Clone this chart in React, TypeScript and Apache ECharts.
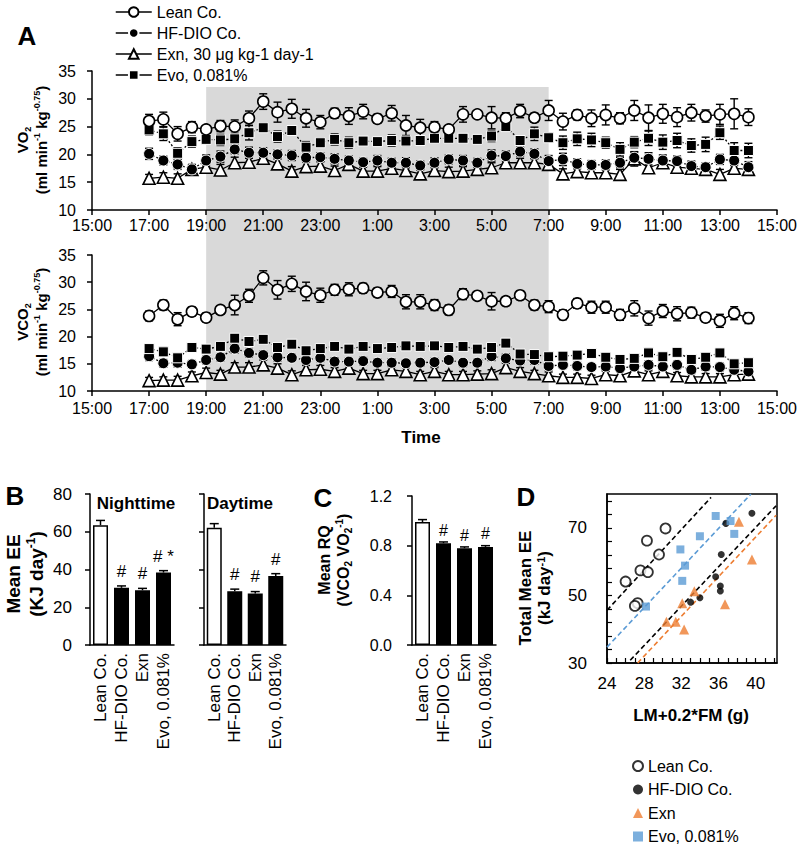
import React, { useEffect, useRef } from "react";
import * as echarts from "echarts";

// ---------- DATA ----------
const times = [
  "17:00", "17:30", "18:00", "18:30", "19:00", "19:30", "20:00", "20:30", "21:00", "21:30", "22:00", "22:30", "23:00",
  "23:30", "0:00", "0:30", "1:00", "1:30", "2:00", "2:30", "3:00", "3:30", "4:00", "4:30", "5:00", "5:30", "6:00", "6:30", "7:00",
  "7:30", "8:00", "8:30", "9:00", "9:30", "10:00", "10:30", "11:00", "11:30", "12:00", "12:30", "13:00", "13:30", "14:00",
];
const axisStartHour = 15; // 15:00
const darkPeriod = ["19:00", "7:00"];

const vo2Lean = [26.0, 26.3, 23.7, 24.9, 24.5, 25.1, 25.0, 26.5, 29.5, 27.6, 28.2, 26.5, 25.8, 27.4, 26.9, 27.7, 26.4, 27.4, 25.2, 24.8, 24.9, 24.5, 27.2, 27.2, 26.6, 26.5, 27.8, 26.6, 27.9, 25.9, 27.1, 26.5, 27.1, 26.5, 27.9, 26.6, 27.3, 26.7, 27.5, 26.9, 27.2, 27.3, 26.7];
const vo2Hf = [20.1, 18.9, 18.2, 17.3, 18.9, 19.6, 20.9, 20.3, 20.3, 20.0, 19.8, 19.4, 19.5, 19.2, 18.9, 18.6, 18.9, 18.5, 18.5, 18.0, 18.5, 19.1, 18.9, 18.5, 19.8, 19.7, 20.5, 20.1, 18.8, 19.1, 18.3, 18.1, 18.1, 18.5, 19.4, 19.2, 18.9, 18.8, 17.9, 17.7, 19.1, 18.9, 17.7];
const vo2Exn = [15.7, 15.9, 15.7, 17.3, 17.7, 17.2, 18.5, 18.6, 19.3, 18.3, 17.0, 17.8, 17.9, 17.1, 18.2, 17.0, 17.0, 17.5, 17.1, 16.5, 17.1, 16.9, 17.0, 17.3, 17.6, 18.5, 18.5, 18.5, 18.2, 16.5, 16.9, 16.7, 16.7, 16.4, 19.2, 17.6, 18.5, 17.7, 17.5, 17.3, 16.4, 17.5, 17.3];
const vo2Evo = [24.4, 23.7, 20.2, 22.3, 22.7, 22.6, 22.8, 23.9, 24.8, 23.2, 24.3, 21.3, 22.1, 22.7, 22.1, 22.4, 22.3, 22.5, 22.4, 22.5, 22.9, 22.9, 22.9, 22.7, 23.3, 25.0, 22.5, 23.7, 23.0, 22.1, 22.8, 22.6, 22.1, 20.9, 22.2, 22.9, 22.2, 22.5, 21.6, 21.8, 23.9, 20.7, 20.7];

const vo2LeanErr = [1.2, 1.3, 1.3, 1.0, 0.5, 1.0, 1.2, 1.3, 1.4, 1.8, 1.7, 1.6, 1.2, 0.9, 1.5, 1.3, 0.8, 1.4, 1.8, 1.5, 1.0, 0.6, 1.4, 0.5, 2.0, 1.0, 1.2, 0.8, 1.8, 1.5, 0.9, 1.5, 1.8, 1.0, 1.8, 2.3, 1.7, 1.7, 1.5, 1.1, 1.8, 2.7, 1.5];
const vo2HfErr = [1.0, 0.8, 0.9, 0.8, 1.0, 1.0, 0.8, 1.0, 0.9, 0.8, 0.9, 0.8, 0.8, 0.9, 0.8, 0.7, 0.9, 0.8, 0.9, 0.8, 0.9, 0.8, 0.9, 0.8, 1.0, 0.9, 0.8, 0.9, 1.0, 1.1, 0.9, 0.8, 0.9, 0.9, 1.0, 1.1, 1.0, 0.9, 0.9, 0.8, 0.9, 0.9, 1.0];
const vo2ExnErr = [0.7, 0.8, 0.8, 0.9, 0.8, 1.0, 1.0, 1.0, 1.0, 0.9, 0.8, 0.8, 0.8, 0.8, 0.8, 0.7, 0.8, 0.8, 0.9, 0.8, 0.8, 0.8, 0.8, 0.8, 0.9, 0.9, 0.8, 0.8, 1.0, 0.9, 0.8, 0.8, 0.8, 0.9, 1.3, 1.0, 0.9, 0.8, 0.8, 0.8, 0.9, 0.8, 1.0];
const vo2EvoErr = [0.9, 1.2, 1.0, 1.0, 0.6, 1.0, 0.8, 1.3, 0.8, 1.0, 0.7, 1.0, 0.8, 1.0, 1.0, 0.6, 0.6, 1.0, 0.8, 0.6, 0.6, 0.6, 0.6, 0.6, 1.0, 0.7, 0.8, 1.2, 0.8, 1.2, 1.2, 1.2, 1.0, 1.2, 1.0, 1.3, 1.3, 1.3, 1.2, 1.3, 1.2, 1.4, 1.3];

const vco2Lean = [23.8, 25.8, 23.2, 24.6, 23.5, 24.9, 25.8, 27.5, 30.8, 28.6, 29.7, 28.3, 27.6, 28.6, 28.7, 28.9, 28.1, 28.3, 26.4, 26.4, 25.8, 24.9, 27.8, 27.5, 26.5, 26.5, 27.6, 25.8, 25.5, 24.0, 26.1, 25.4, 25.4, 24.0, 25.2, 23.4, 24.7, 24.2, 24.4, 23.5, 22.9, 24.3, 23.4];
const vco2Hf = [16.4, 15.1, 15.2, 14.9, 15.7, 16.2, 17.8, 17.0, 16.6, 16.2, 16.1, 15.7, 16.1, 15.4, 15.4, 15.5, 15.2, 15.2, 15.1, 15.2, 15.3, 15.7, 15.2, 15.2, 16.4, 16.0, 15.6, 15.7, 14.6, 14.8, 14.6, 14.4, 14.5, 14.2, 14.5, 14.8, 14.5, 14.8, 13.9, 14.5, 14.4, 13.9, 13.6];
const vco2Exn = [11.9, 12.0, 12.0, 12.8, 13.4, 13.1, 14.4, 14.4, 14.8, 14.2, 13.0, 13.9, 14.0, 13.6, 14.2, 13.2, 13.2, 13.9, 13.6, 13.0, 13.6, 13.0, 13.0, 13.1, 13.2, 14.3, 13.6, 13.2, 12.8, 12.5, 12.5, 12.3, 13.0, 12.8, 13.7, 13.0, 13.6, 12.8, 12.6, 12.6, 12.6, 13.0, 13.1];
const vco2Evo = [17.8, 17.2, 16.1, 18.0, 17.7, 18.2, 19.7, 19.1, 19.5, 18.0, 18.6, 17.4, 17.8, 18.2, 17.7, 18.2, 17.8, 18.0, 18.3, 18.2, 18.3, 18.0, 18.2, 17.7, 18.0, 18.8, 16.8, 16.7, 16.3, 16.4, 16.6, 16.9, 16.2, 15.8, 16.0, 17.0, 16.3, 17.1, 15.8, 16.2, 17.0, 15.0, 15.2];

const vco2LeanErr = [0.9, 0.9, 1.2, 0.8, 0.8, 0.8, 1.8, 1.2, 1.3, 1.7, 1.4, 1.7, 1.3, 1.0, 1.2, 0.9, 0.8, 1.1, 1.3, 1.3, 1.0, 0.9, 1.0, 0.5, 1.6, 0.8, 0.8, 0.9, 1.1, 0.9, 0.9, 1.1, 1.1, 1.0, 1.4, 1.3, 1.2, 1.3, 1.0, 0.8, 1.2, 1.2, 1.0];
const vco2HfErr = [0.8, 0.7, 0.8, 0.7, 0.7, 0.6, 0.8, 0.8, 0.7, 0.7, 0.6, 0.7, 0.7, 0.7, 0.6, 0.7, 0.6, 0.7, 0.6, 0.6, 0.7, 0.6, 0.7, 0.6, 0.8, 0.8, 0.7, 0.8, 0.7, 0.6, 0.7, 0.6, 0.7, 0.6, 0.7, 0.7, 0.6, 0.7, 0.6, 0.7, 0.7, 0.6, 0.7];
const vco2ExnErr = [0.6, 0.6, 0.7, 0.7, 0.8, 0.7, 0.8, 0.8, 0.9, 0.8, 0.7, 0.8, 0.7, 0.7, 0.7, 0.6, 0.6, 0.7, 0.7, 0.6, 0.7, 0.6, 0.6, 0.6, 0.7, 0.8, 0.7, 0.6, 0.7, 0.6, 0.6, 0.6, 0.6, 0.7, 0.8, 0.7, 0.7, 0.6, 0.6, 0.6, 0.6, 0.6, 0.7];
const vco2EvoErr = [0.7, 0.8, 0.7, 0.6, 0.6, 0.7, 0.6, 0.7, 0.6, 0.7, 0.6, 0.7, 0.6, 0.6, 0.7, 0.6, 0.6, 0.6, 0.6, 0.6, 0.6, 0.6, 0.6, 0.6, 0.7, 0.7, 0.8, 0.8, 0.7, 0.7, 0.7, 0.6, 0.7, 0.7, 0.6, 0.8, 0.7, 0.8, 0.7, 0.7, 0.6, 0.7, 0.7];

const groupNames = ["Lean Co.", "HF-DIO Co.", "Exn, 30 μg kg-1 day-1", "Evo, 0.081%"];

// Panel B / C
const barCategories = ["Lean Co.", "HF-DIO Co.", "Exn", "Evo, 0.081%"];
const nightEE = [63.5, 30.3, 29.0, 38.4];
const nightEEErr = [2.5, 1.0, 1.0, 1.0];
const nightSig = ["", "#", "#", "# *"];
const dayEE = [62.1, 28.5, 27.3, 36.6];
const dayEEErr = [2.2, 1.1, 1.0, 1.2];
const daySig = ["", "#", "#", "#"];
const meanRQ = [0.99, 0.82, 0.78, 0.79];
const meanRQErr = [0.02, 0.01, 0.01, 0.01];
const rqSig = ["", "#", "#", "#"];

// Panel D
const dNames = ["Lean Co.", "HF-DIO Co.", "Exn", "Evo, 0.081%"];
const dLeanX = [26.0, 27.3, 27.0, 27.6, 28.4, 28.3, 29.6, 30.3];
const dLeanY = [54.1, 47.7, 46.9, 57.4, 56.9, 66.2, 62.1, 69.8];
const dHfX = [33.0, 34.0, 35.7, 36.2, 36.2, 36.3, 36.8, 39.6];
const dHfY = [48.0, 49.3, 55.5, 52.8, 51.3, 62.1, 71.3, 74.3];
const dExnX = [30.4, 31.4, 32.3, 32.1, 33.4, 36.7, 38.2, 39.6];
const dExnY = [42.2, 42.2, 39.9, 47.7, 51.2, 47.4, 71.8, 60.6];
const dEvoX = [28.2, 31.9, 32.1, 32.4, 34.0, 35.7, 37.3, 37.7];
const dEvoY = [46.7, 63.6, 54.3, 58.8, 67.5, 73.5, 72.0, 68.2];
const fitLean = [[24.0, 45.6], [35.2, 79.0]];
const fitEvo = [[24.0, 34.7], [39.5, 80.0]];
const fitHf = [[26.5, 30.8], [42.2, 76.5]];
const fitExn = [[27.3, 30.0], [42.2, 73.7]];
const dTicksX = [24, 25, 26, 27, 28, 29, 30, 31, 32, 33, 34, 35, 36, 37, 38, 39, 40, 41, 42];
const dLabelsX = [24, 28, 32, 36, 40];
const dTicksY = [30, 34, 38, 42, 46, 50, 54, 58, 62, 66, 70, 74, 78];
const dLabelsY = [30, 50, 70];

// ---------- STYLES ----------
const FONT = "'Liberation Sans', Arial, Helvetica, sans-serif";
const ORANGE = "#ED7D31";
const BLUE = "#5B9BD5";

function toOffset(t: string): number {
  const [h, m] = t.split(":").map(Number);
  let v = h + m / 60 - axisStartHour;
  if (v < 0) v += 24;
  return v;
}

const lineStyles = [
  { symbol: "circle", size: 11, fill: "#fff", border: "#000", bw: 1.6, dash: "solid", z: 6 },
  { symbol: "circle", size: 11, fill: "#000", border: "#fff", bw: 1, dash: [2, 2], z: 4 },
  { symbol: "triangle", size: 12, fill: "#fff", border: "#000", bw: 1.6, dash: "solid", z: 3 },
  { symbol: "rect", size: 10, fill: "#000", border: "#fff", bw: 1, dash: [2, 2], z: 5 },
];

function errSeries(axis: number, vals: number[], errs: number[]) {
  return {
    type: "custom",
    xAxisIndex: axis,
    yAxisIndex: axis,
    silent: true,
    z: 2,
    data: times.map((t, i) => [toOffset(t), vals[i], errs[i]]),
    encode: { x: 0, y: 1 },
    renderItem: (params: any, api: any) => {
      const x = api.value(0);
      const v = api.value(1);
      const e = api.value(2);
      const hi = api.coord([x, v + e]);
      const lo = api.coord([x, v - e]);
      const w = 4;
      const st = { stroke: "#000", lineWidth: 1.4 };
      return {
        type: "group",
        children: [
          { type: "line", shape: { x1: hi[0], y1: hi[1], x2: lo[0], y2: lo[1] }, style: st },
          { type: "line", shape: { x1: hi[0] - w, y1: hi[1], x2: hi[0] + w, y2: hi[1] }, style: st },
          { type: "line", shape: { x1: lo[0] - w, y1: lo[1], x2: lo[0] + w, y2: lo[1] }, style: st },
        ],
      };
    },
  };
}

function lineSeries(axis: number, gi: number, vals: number[]) {
  const s = lineStyles[gi];
  return {
    type: "line",
    name: groupNames[gi],
    xAxisIndex: axis,
    yAxisIndex: axis,
    data: times.map((t, i) => [toOffset(t), vals[i]]),
    symbol: s.symbol,
    symbolSize: s.size,
    showSymbol: true,
    z: s.z,
    lineStyle: { color: "#000", width: 1.3, type: s.dash },
    itemStyle: { color: s.fill, borderColor: s.border, borderWidth: s.bw },
    emphasis: { disabled: true },
  };
}

function barErr(axis: number, vals: number[], errs: number[]) {
  return {
    type: "custom",
    xAxisIndex: axis,
    yAxisIndex: axis,
    silent: true,
    z: 4,
    data: vals.map((v, i) => [i, v, errs[i]]),
    encode: { x: 0, y: 1 },
    renderItem: (params: any, api: any) => {
      const i = api.value(0);
      const v = api.value(1);
      const e = api.value(2);
      const base = api.coord([i, v]);
      const hi = api.coord([i, v + e]);
      const st = { stroke: "#000", lineWidth: 1.5 };
      return {
        type: "group",
        children: [
          { type: "line", shape: { x1: base[0], y1: base[1], x2: hi[0], y2: hi[1] }, style: st },
          { type: "line", shape: { x1: hi[0] - 4.5, y1: hi[1], x2: hi[0] + 4.5, y2: hi[1] }, style: st },
        ],
      };
    },
  };
}

const barFills = ["#fff", "#000", "#000", "#000"];

function barSeries(axis: number, vals: number[], sig: string[], width: number, fontSize: number, dist: number) {
  return {
    type: "bar",
    xAxisIndex: axis,
    yAxisIndex: axis,
    barWidth: width,
    z: 3,
    data: vals.map((v, i) => ({
      value: v,
      itemStyle: { color: barFills[i], borderColor: "#000", borderWidth: 1.5 },
    })),
    label: {
      show: true,
      position: "top",
      distance: dist,
      formatter: (p: any) => sig[p.dataIndex],
      fontSize,
      fontFamily: FONT,
      color: "#000",
    },
    emphasis: { disabled: true },
  };
}

const blackLine = { show: true, lineStyle: { color: "#000", width: 1.5 } };
const noSplit = { show: false };

function timeX(grid: number, margin: number) {
  return {
    type: "value",
    gridIndex: grid,
    min: 0,
    max: 24,
    interval: 2,
    axisLine: blackLine,
    axisTick: { show: true, length: 5, lineStyle: { color: "#000", width: 1.5 } },
    axisLabel: {
      fontSize: 16,
      color: "#000",
      margin,
      fontFamily: FONT,
      formatter: (v: number) => `${(v + axisStartHour) % 24}:00`,
    },
    splitLine: noSplit,
  };
}

function valY(grid: number, min: number, max: number, interval: number, showLabel: boolean, margin: number, fontSize: number, fmt?: (v: number) => string) {
  return {
    type: "value",
    gridIndex: grid,
    min,
    max,
    interval,
    axisLine: blackLine,
    axisTick: { show: true, length: 5, lineStyle: { color: "#000", width: 1.5 } },
    axisLabel: { show: showLabel, fontSize, color: "#000", margin, fontFamily: FONT, formatter: fmt },
    splitLine: noSplit,
  };
}

function catX(grid: number) {
  return {
    type: "category",
    gridIndex: grid,
    data: barCategories,
    axisLine: blackLine,
    axisTick: { show: false },
    axisLabel: { rotate: 90, interval: 0, fontSize: 17, color: "#000", margin: 8, fontFamily: FONT },
  };
}

function rich(size: number, lh: number) {
  return {
    b: { fontSize: size, fontWeight: "bold", fontFamily: FONT, lineHeight: lh, fill: "#000" },
    sup: { fontSize: Math.round(size * 0.62), fontWeight: "bold", fontFamily: FONT, verticalAlign: "top", lineHeight: lh, fill: "#000" },
    sub: { fontSize: Math.round(size * 0.62), fontWeight: "bold", fontFamily: FONT, verticalAlign: "bottom", lineHeight: lh, fill: "#000" },
  };
}

function rotText(x: number, y: number, text: string, size: number, lh: number) {
  return {
    type: "text",
    x,
    y,
    rotation: Math.PI / 2,
    silent: true,
    style: { text, rich: rich(size, lh), align: "center", verticalAlign: "middle", fill: "#000" },
  };
}

function plainText(x: number, y: number, text: string, size: number) {
  return {
    type: "text",
    x,
    y,
    silent: true,
    style: { text, font: `bold ${size}px ${FONT}`, align: "center", verticalAlign: "middle", fill: "#000" },
  };
}

function buildOption() {
  const series: any[] = [];
  // shading of the dark period
  series.push({
    type: "custom",
    xAxisIndex: 2,
    yAxisIndex: 2,
    silent: true,
    z: -10,
    data: [[toOffset(darkPeriod[0]), toOffset(darkPeriod[1])]],
    encode: { x: [0, 1] },
    renderItem: (params: any, api: any) => {
      const a = api.coord([api.value(0), 1]);
      const b = api.coord([api.value(1), 0]);
      return { type: "rect", shape: { x: a[0], y: a[1], width: b[0] - a[0], height: b[1] - a[1] }, style: { fill: "#d9d9d9" } };
    },
  });

  const vo2 = [vo2Lean, vo2Hf, vo2Exn, vo2Evo];
  const vo2e = [vo2LeanErr, vo2HfErr, vo2ExnErr, vo2EvoErr];
  const vco2 = [vco2Lean, vco2Hf, vco2Exn, vco2Evo];
  const vco2e = [vco2LeanErr, vco2HfErr, vco2ExnErr, vco2EvoErr];
  for (let g = 0; g < 4; g++) {
    series.push(errSeries(0, vo2[g], vo2e[g]));
    series.push(errSeries(1, vco2[g], vco2e[g]));
  }
  for (let g = 0; g < 4; g++) {
    series.push(lineSeries(0, g, vo2[g]));
    series.push(lineSeries(1, g, vco2[g]));
  }

  // Panel B
  series.push(barSeries(3, nightEE, nightSig, 15, 17, 8));
  series.push(barErr(3, nightEE, nightEEErr));
  series.push(barSeries(4, dayEE, daySig, 15, 17, 8));
  series.push(barErr(4, dayEE, dayEEErr));
  // Panel C
  series.push(barSeries(5, meanRQ, rqSig, 15, 16, 5));
  series.push(barErr(5, meanRQ, meanRQErr));

  // Panel D
  const fitLine = (pts: number[][], color: string) => ({
    type: "line",
    xAxisIndex: 6,
    yAxisIndex: 6,
    data: pts,
    symbol: "none",
    silent: true,
    z: 2,
    lineStyle: { color, width: 1.6, type: [5, 3] },
  });
  series.push(fitLine(fitLean, "#000"));
  series.push(fitLine(fitEvo, BLUE));
  series.push(fitLine(fitHf, "#000"));
  series.push(fitLine(fitExn, ORANGE));
  const sc = (name: string, xs: number[], ys: number[], symbol: string, size: number, itemStyle: any) => ({
    type: "scatter",
    name: "D:" + name,
    xAxisIndex: 6,
    yAxisIndex: 6,
    data: xs.map((x, i) => [x, ys[i]]),
    symbol,
    symbolSize: size,
    z: 4,
    itemStyle,
    emphasis: { disabled: true },
  });
  series.push(sc(dNames[0], dLeanX, dLeanY, "circle", 10, { color: "#fff", borderColor: "#000", borderWidth: 1.8 }));
  series.push(sc(dNames[1], dHfX, dHfY, "circle", 7, { color: "#000" }));
  series.push(sc(dNames[2], dExnX, dExnY, "triangle", 10, { color: ORANGE }));
  series.push(sc(dNames[3], dEvoX, dEvoY, "rect", 8, { color: BLUE }));

  return {
    animation: false,
    textStyle: { fontFamily: FONT },
    grid: [
      { left: 92, top: 71, width: 685, height: 139 },
      { left: 92, top: 255, width: 685, height: 136 },
      { left: 92, top: 87, width: 685, height: 304 },
      { left: 90, top: 494, width: 84, height: 151 },
      { left: 204, top: 494, width: 82, height: 151 },
      { left: 412, top: 496, width: 84, height: 149 },
      { left: 607, top: 494, width: 170, height: 169, show: true, borderColor: "#000", borderWidth: 1.5, backgroundColor: "transparent" },
    ],
    xAxis: [
      timeX(0, 7),
      timeX(1, 9),
      { type: "value", gridIndex: 2, min: 0, max: 24, show: false },
      catX(3),
      catX(4),
      catX(5),
      {
        type: "value",
        gridIndex: 6,
        min: 24,
        max: 42.3,
        axisLine: blackLine,
        axisTick: { show: true, inside: true, length: 5, customValues: dTicksX, lineStyle: { color: "#000", width: 1.2 } },
        axisLabel: { customValues: dLabelsX, fontSize: 17, color: "#000", margin: 12, fontFamily: FONT },
        splitLine: noSplit,
      },
    ],
    yAxis: [
      valY(0, 10, 35, 5, true, 16, 16),
      valY(1, 10, 35, 5, true, 16, 16),
      { type: "value", gridIndex: 2, min: 0, max: 1, show: false },
      valY(3, 0, 80, 20, true, 18, 17),
      valY(4, 0, 80, 20, false, 18, 17),
      valY(5, 0, 1.2, 0.4, true, 20, 16, (v: number) => v.toFixed(1)),
      {
        type: "value",
        gridIndex: 6,
        min: 30,
        max: 80,
        axisLine: blackLine,
        axisTick: { show: true, inside: true, length: 5, customValues: dTicksY, lineStyle: { color: "#000", width: 1.2 } },
        axisLabel: { customValues: dLabelsY, fontSize: 17, color: "#000", margin: 20, fontFamily: FONT },
        splitLine: noSplit,
      },
    ],
    legend: [
      {
        orient: "vertical",
        left: 115,
        top: 4,
        padding: 0,
        itemWidth: 36,
        itemHeight: 12,
        itemGap: 5,
        selectedMode: false,
        data: groupNames,
        lineStyle: { type: "solid", width: 1.5 },
        textStyle: { fontSize: 16, color: "#000", fontFamily: FONT },
      },
      {
        orient: "vertical",
        left: 632,
        top: 758,
        padding: 0,
        itemWidth: 10,
        itemHeight: 10,
        itemGap: 7.5,
        selectedMode: false,
        data: dNames.map((n) => "D:" + n),
        formatter: (n: string) => n.slice(2),
        textStyle: { fontSize: 16, color: "#000", fontFamily: FONT },
      },
    ],
    graphic: [
      plainText(27, 36, "A", 26),
      plainText(15, 496, "B", 26),
      plainText(323, 498, "C", 26),
      plainText(526, 497, "D", 26),
      rotText(32, 140, "{b|VO}{sub|2}\n{b|(ml min}{sup|-1}{b| kg}{sup|-0.75}{b|)}", 15, 19),
      rotText(32, 322, "{b|VCO}{sub|2}\n{b|(ml min}{sup|-1}{b| kg}{sup|-0.75}{b|)}", 15, 19),
      plainText(421, 437, "Time", 17),
      plainText(136, 503, "Nighttime", 17),
      plainText(240, 503, "Daytime", 17),
      rotText(25, 574, "{b|Mean EE}\n{b|(KJ day}{sup|-1}{b|)}", 19, 23),
      rotText(334, 560, "{b|Mean RQ}\n{b|(VCO}{sub|2}{b| VO}{sub|2}{sup|-1}{b|)}", 16, 19),
      rotText(535, 588, "{b|Total Mean EE}\n{b|(kJ day}{sup|-1}{b|)}", 17, 19),
      plainText(691, 715, "LM+0.2*FM (g)", 17),
    ],
    series,
  };
}

export default function App() {
  const ref = useRef<HTMLDivElement>(null);
  useEffect(() => {
    if (!ref.current) return;
    const chart = echarts.init(ref.current, null, { renderer: "svg" });
    chart.setOption(buildOption() as any);
    return () => chart.dispose();
  }, []);
  return <div ref={ref} style={{ position: "absolute", left: 0, top: 0, width: 800, height: 848, background: "#fff" }} />;
}
